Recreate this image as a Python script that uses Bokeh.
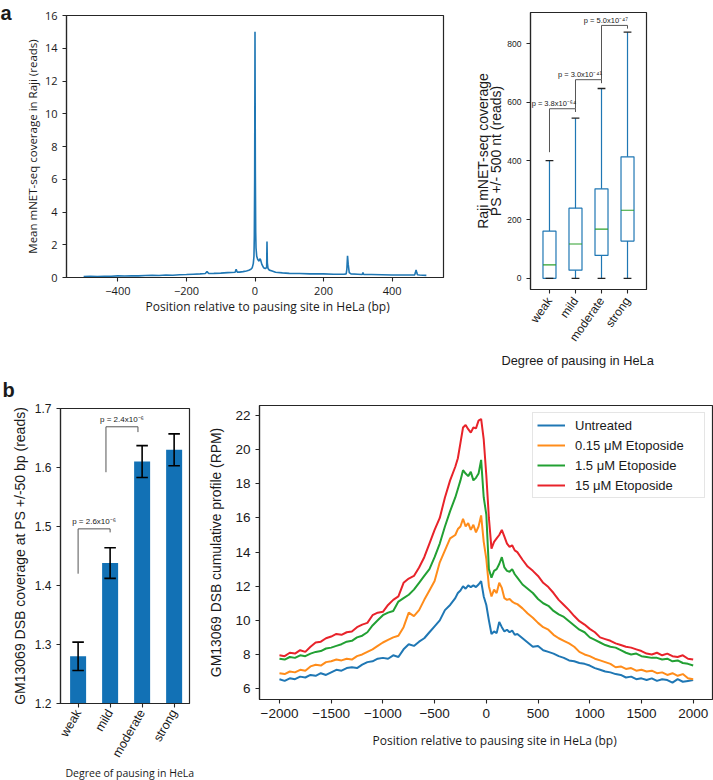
import math
from bokeh.plotting import figure
from bokeh.layouts import row, column
from bokeh.models import FixedTicker, Range1d, Legend, LegendItem, Title
from bokeh.embed import file_html
from bokeh.resources import INLINE
from bokeh.core.properties import value

# ---------------- data ----------------
# panel a (left): mean mNET-seq coverage around the pausing site
a_pos = [-500, -480, -460, -440, -420, -400, -380, -360, -340, -320,
         -300, -280, -260, -240, -220, -200, -180, -160, -145, -140,
         -135, -120, -100, -80, -58, -55, -52, -45, -35, -25,
         -18, -12, -8, -5, -3, -2, -1, 0, 1, 2,
         3, 5, 8, 12, 14, 16, 20, 25, 30, 34,
         35, 36, 38, 42, 50, 60, 80, 100, 130, 160,
         200, 230, 260, 266, 268, 270, 272, 275, 280, 300,
         313, 315, 317, 340, 370, 400, 430, 460, 466, 468,
         470, 472, 474, 480, 500]
a_val = [0.06, 0.07, 0.06, 0.08, 0.08, 0.10, 0.09, 0.11, 0.10, 0.12,
         0.13, 0.12, 0.15, 0.14, 0.17, 0.18, 0.20, 0.22, 0.24, 0.36,
         0.24, 0.25, 0.27, 0.30, 0.32, 0.50, 0.33, 0.33, 0.36, 0.40,
         0.44, 0.50, 0.60, 0.85, 1.30, 2.50, 6.00, 15.0, 6.50, 2.80,
         1.80, 1.30, 1.10, 1.00, 1.15, 1.10, 0.80, 0.60, 0.55, 0.60,
         2.20, 0.90, 0.55, 0.45, 0.40, 0.32, 0.28, 0.25, 0.24, 0.22,
         0.22, 0.20, 0.20, 0.22, 0.50, 1.32, 0.80, 0.30, 0.22, 0.20,
         0.18, 0.30, 0.18, 0.18, 0.17, 0.15, 0.15, 0.15, 0.16, 0.30,
         0.46, 0.30, 0.17, 0.15, 0.13]
a_xticks = [-400, -200, 0, 200, 400]
a_yticks = [0, 2, 4, 6, 8, 10, 12, 14, 16]

# panel a (right): box plot by degree of pausing
pause_cats = ["weak", "mild", "moderate", "strong"]
box_low = [0, 0, 0, 0]
box_q1 = [0, 28, 78, 127]
box_med = [46, 117, 168, 232]
box_q3 = [161, 239, 305, 414]
box_high = [401, 546, 647, 839]
box_yticks = [0, 200, 400, 600, 800]
box_pvals = ["p = 3.8x10\u207b\u2076\u2074", "p = 3.0x10\u207b\u2074\u00b9", "p = 5.0x10\u207b\u2074\u2077"]
box_br_start = [430, 578, 677]
box_br_top = [578, 677, 862]
box_br_end = [567, 665, 851]

# panel b (left): DSB coverage bars
bar_val = [1.28, 1.438, 1.61, 1.63]
bar_err = [0.024, 0.026, 0.027, 0.027]
bar_yticks = [1.2, 1.3, 1.4, 1.5, 1.6, 1.7]
bar_pvals = ["p = 2.6x10\u207b\u2076", "p = 2.4x10\u207b\u2076"]
bar_br_start = [1.42, 1.592]
bar_br_top = [1.496, 1.669]
bar_br_end = [1.49, 1.66]

# panel b (right): cumulative DSB profiles
d_pos = [-2000, -1950, -1900, -1850, -1800, -1750, -1700, -1650, -1600, -1550,
         -1500, -1450, -1400, -1350, -1300, -1250, -1200, -1150, -1100, -1050,
         -1000, -950, -900, -850, -800, -750, -700, -650, -600, -550,
         -500, -450, -400, -350, -300, -275, -250, -225, -200, -175,
         -150, -125, -100, -75, -50, -25, 0, 25, 50, 75,
         100, 125, 150, 175, 200, 225, 250, 275, 300, 350,
         400, 450, 500, 550, 600, 650, 700, 750, 800, 850,
         900, 950, 1000, 1050, 1100, 1150, 1200, 1250, 1300, 1350,
         1400, 1450, 1500, 1550, 1600, 1650, 1700, 1750, 1800, 1850,
         1900, 1950, 2000]
d_untreated = [6.55, 6.45, 6.6, 6.55, 6.7, 6.65, 6.8, 6.75, 6.9, 6.8,
               6.95, 7.1, 7.05, 7.2, 7.25, 7.2, 7.4, 7.55, 7.6, 7.75,
               7.8, 7.75, 7.95, 7.85, 8.3, 8.6, 8.5, 8.75, 8.95, 9.3,
               9.65, 10.0, 10.6, 10.9, 11.3, 11.6, 11.75, 12.0, 11.85, 12.05,
               11.95, 12.05, 11.95, 12.1, 12.3, 11.4, 10.9, 10.0, 9.2, 9.35,
               9.25, 9.9, 9.6, 9.35, 9.45, 9.3, 9.4, 9.15, 9.2, 8.95,
               8.7, 8.45, 8.5, 8.25, 8.15, 8.05, 7.9, 7.8, 7.65, 7.6,
               7.5, 7.45, 7.35, 7.2, 7.1, 7.0, 6.95, 6.85, 6.8, 6.65,
               6.7, 6.55, 6.6, 6.5, 6.6, 6.45, 6.55, 6.5, 6.35, 6.55,
               6.4, 6.45, 6.5]
d_eto015 = [6.9, 6.85, 7.0, 6.95, 7.1, 7.05, 7.3, 7.4, 7.35, 7.55,
            7.6, 7.7, 7.65, 7.75, 7.7, 7.9, 8.0, 8.15, 8.3, 8.5,
            8.7, 8.85, 9.0, 9.1, 9.6, 10.45, 10.25, 10.6, 11.2, 11.75,
            12.3, 13.4, 14.1, 14.8, 15.0, 15.35, 15.5, 15.95, 15.5, 15.7,
            15.3, 15.6, 15.15, 15.5, 16.15, 14.6, 13.6, 12.0, 11.4, 11.8,
            11.6, 12.2, 11.9, 11.3, 11.2, 11.25, 11.1, 11.0, 10.95, 10.7,
            10.4, 10.15, 9.85, 9.6, 9.45, 9.15, 8.95, 8.8, 8.65, 8.45,
            8.15, 8.0, 7.9, 7.75, 7.65, 7.55, 7.45, 7.25, 7.3, 7.15,
            7.2, 7.05, 7.1, 7.0, 7.05, 6.9, 6.95, 6.8, 6.9, 6.75,
            6.85, 6.6, 6.55]
d_eto15 = [7.75, 7.7, 7.85, 7.8, 7.95, 7.9, 8.05, 8.15, 8.2, 8.35,
           8.4, 8.5, 8.6, 8.75, 8.8, 9.0, 9.1, 9.3, 9.7, 10.0,
           10.3, 10.45, 10.55, 11.1, 11.3, 11.5, 11.8, 12.2, 12.6, 13.0,
           13.7, 14.5, 15.5, 16.4, 17.2, 17.7, 18.2, 18.8, 18.6, 18.45,
           18.7, 18.2, 18.35, 18.6, 19.4, 17.2, 16.2, 13.0, 12.5, 12.9,
           13.0, 13.3, 13.7, 13.1, 12.9, 12.85, 13.0, 12.7, 12.5, 12.1,
           11.85, 11.6, 11.25, 11.0, 10.85, 10.55, 10.35, 10.2, 9.95, 9.7,
           9.45, 9.3, 9.0, 8.85, 8.7, 8.55, 8.45, 8.4, 8.25, 8.1,
           8.0, 8.05, 7.9, 7.85, 7.8, 7.8, 7.7, 7.75, 7.6, 7.65,
           7.5, 7.45, 7.35]
d_eto150 = [7.95, 7.9, 8.1, 8.05, 8.25, 8.15, 8.45, 8.7, 8.75, 8.95,
            9.05, 9.2, 9.15, 9.3, 9.35, 9.6, 9.75, 9.85, 10.3, 10.45,
            10.5, 10.9, 11.2, 11.4, 12.2, 12.45, 12.6, 13.1, 13.7, 14.5,
            15.3, 16.0, 17.2, 18.2, 19.0, 19.5, 20.4, 21.3, 21.45, 21.2,
            21.0, 21.3, 21.25, 21.7, 21.8, 20.6, 18.5, 16.0, 14.2, 14.6,
            14.8, 15.0, 15.3, 14.9, 14.5, 14.3, 14.4, 14.1, 14.0, 13.55,
            13.15, 12.9, 12.6, 12.2, 11.95, 11.6, 11.2, 10.9, 10.6, 10.25,
            9.95, 9.75, 9.5, 9.3, 9.0, 8.9, 8.8, 8.65, 8.55, 8.45,
            8.4, 8.3, 8.2, 8.05, 8.0, 8.1, 7.95, 8.05, 7.9, 7.85,
            7.95, 7.75, 7.7]
d_series = ["Untreated", "0.15 \u03bcM Etoposide", "1.5 \u03bcM Etoposide", "15 \u03bcM Etoposide"]
d_xticks = [-2000, -1500, -1000, -500, 0, 500, 1000, 1500, 2000]
d_yticks = [6, 8, 10, 12, 14, 16, 18, 20, 22]

# ---------------- styling helpers ----------------
ARIAL = "Liberation Sans"
HUMAN = "Open Sans"
INK = "#1a1a1a"
SPINE = "#262626"


def make_fig(origin, size, frame, xr, yr):
    ox, oy = origin
    w, h = size
    fl, fr, ft, fb = frame
    p = figure(width=w, height=h, x_range=Range1d(*xr), y_range=Range1d(*yr),
               output_backend="svg", toolbar_location=None,
               min_border_left=fl - ox, min_border_right=ox + w - fr,
               min_border_top=ft - oy, min_border_bottom=oy + h - fb)
    try:
        p.frame_align = False
    except Exception:
        pass
    p.xgrid.visible = False
    p.ygrid.visible = False
    p.outline_line_color = SPINE
    p.outline_line_width = 1.2
    p.background_fill_color = "white"
    p.border_fill_color = "white"
    for ax in p.axis:
        ax.axis_line_color = SPINE
        ax.axis_line_width = 1.2
        ax.major_tick_in = 0
        ax.major_tick_out = 4
        ax.major_tick_line_color = SPINE
        ax.major_tick_line_width = 1.1
        ax.minor_tick_line_color = None
        ax.major_label_text_color = INK
        ax.axis_label_text_font_style = "normal"
        ax.axis_label_text_color = INK
    return p


def tick_font(p, font, size):
    for ax in p.axis:
        ax.major_label_text_font = font
        ax.major_label_text_font_size = size


def side_title(p, side, text, font, size, offset, standoff, valign="top", style="normal"):
    kw = dict(text=text, align="left", vertical_align=valign, offset=offset,
              text_font=font, text_font_size=size, text_font_style=style,
              text_color=INK)
    try:
        t = Title(standoff=standoff, **kw)
    except Exception:
        t = Title(standoff=max(standoff, 0), **kw)
    p.add_layout(t, side)


TOP_H = 372
BOT_H = 780 - TOP_H

# ---------------- panel a, left ----------------
pA = make_fig((0, 0), (470, TOP_H), (66, 443, 15, 277), (-550, 550), (0, 16))
pA.line(a_pos, a_val, line_color="#1f77b4", line_width=1.6)
pA.xaxis.ticker = FixedTicker(ticks=a_xticks)
pA.xaxis.major_label_overrides = {t: str(t).replace("-", "\u2212") for t in a_xticks}
pA.yaxis.ticker = FixedTicker(ticks=a_yticks)
tick_font(pA, HUMAN, "11px")
pA.yaxis.axis_label = "Mean mNET-seq coverage in Raji (reads)"
pA.yaxis.axis_label_text_font = HUMAN
pA.yaxis.axis_label_text_font_size = "11.5px"
pA.yaxis.axis_label_standoff = 2
side_title(pA, "above", "a", ARIAL, "20px", -66, -20, valign="top", style="bold")
side_title(pA, "below", "Position relative to pausing site in HeLa (bp)", HUMAN, "12px", 79, 0)

# ---------------- panel a, right ----------------
pB = make_fig((470, 0), (243, TOP_H), (530, 646, 12, 289), (0.27, 4.73), (-38, 906))
box_x = [i + 1 for i in range(len(pause_cats))]
box_w = 0.5
cap_w = 0.15
BLUE = "#1f77b4"
pB.segment(x0=box_x, y0=box_q3, x1=box_x, y1=box_high, line_color=BLUE, line_width=1.2)
pB.segment(x0=box_x, y0=box_low, x1=box_x, y1=box_q1, line_color=BLUE, line_width=1.2)
pB.vbar(x=box_x, bottom=box_q1, top=box_q3, width=box_w, fill_color=None,
        line_color=BLUE, line_width=1.2)
pB.segment(x0=[x - box_w / 2 for x in box_x], y0=box_med, x1=[x + box_w / 2 for x in box_x],
           y1=box_med, line_color="#2ca02c", line_width=1.2)
pB.segment(x0=[x - cap_w for x in box_x], y0=box_high, x1=[x + cap_w for x in box_x],
           y1=box_high, line_color="#222222", line_width=1.3)
pB.segment(x0=[x - cap_w for x in box_x], y0=box_low, x1=[x + cap_w for x in box_x],
           y1=box_low, line_color="#222222", line_width=1.3)
br_xs = [[box_x[i], box_x[i], box_x[i + 1], box_x[i + 1]] for i in range(len(box_pvals))]
br_ys = [[box_br_start[i], box_br_top[i], box_br_top[i], box_br_end[i]] for i in range(len(box_pvals))]
pB.multi_line(xs=br_xs, ys=br_ys, line_color="#555555", line_width=1.0)
pB.text(x=[box_x[i] + 0.17 for i in range(len(box_pvals))],
        y=[box_br_top[i] + 18 for i in range(len(box_pvals))],
        text=box_pvals, text_font=value(ARIAL), text_font_size="7.5px",
        text_align="center", text_baseline="middle", text_color=INK)
pB.xaxis.ticker = FixedTicker(ticks=box_x)
pB.xaxis.major_label_overrides = {x: c for x, c in zip(box_x, pause_cats)}
pB.xaxis.major_label_orientation = math.radians(55)
pB.yaxis.ticker = FixedTicker(ticks=box_yticks)
tick_font(pB, ARIAL, "8.5px")
pB.xaxis.major_label_text_font_size = "12px"
pB.yaxis.axis_label = "Raji mNET-seq coverage\nPS +/- 500 nt (reads)"
pB.yaxis.axis_label_text_font = ARIAL
pB.yaxis.axis_label_text_font_size = "14px"
pB.yaxis.axis_label_text_line_height = 0.86
pB.yaxis.axis_label_standoff = 0
side_title(pB, "below", "Degree of pausing in HeLa", ARIAL, "12.8px", -29, 2)

# ---------------- panel b, left ----------------
pC = make_fig((0, TOP_H), (200, BOT_H), (60, 189, 408, 703), (-0.55, 3.48), (1.2, 1.7))
bar_x = list(range(len(pause_cats)))
pC.vbar(x=bar_x, bottom=0, top=bar_val, width=0.5, fill_color="#1271b5", line_color=None)
err_lo = [v - e for v, e in zip(bar_val, bar_err)]
err_hi = [v + e for v, e in zip(bar_val, bar_err)]
ecap = 0.18
pC.segment(x0=bar_x, y0=err_lo, x1=bar_x, y1=err_hi, line_color="black", line_width=1.6)
pC.segment(x0=[x - ecap for x in bar_x], y0=err_lo, x1=[x + ecap for x in bar_x], y1=err_lo,
           line_color="black", line_width=1.6)
pC.segment(x0=[x - ecap for x in bar_x], y0=err_hi, x1=[x + ecap for x in bar_x], y1=err_hi,
           line_color="black", line_width=1.6)
bar_br_x = [(0.0, 1.0), (0.87, 1.87)]
pC.multi_line(xs=[[a, a, b, b] for a, b in bar_br_x],
              ys=[[s, t, t, e] for s, t, e in zip(bar_br_start, bar_br_top, bar_br_end)],
              line_color="#555555", line_width=1.0)
pC.text(x=[a + 0.5 for a, b in bar_br_x], y=[t + 0.013 for t in bar_br_top], text=bar_pvals,
        text_font=value(ARIAL), text_font_size="8px", text_align="center",
        text_baseline="middle", text_color=INK)
pC.xaxis.ticker = FixedTicker(ticks=bar_x)
pC.xaxis.major_label_overrides = {x: c for x, c in zip(bar_x, pause_cats)}
pC.xaxis.major_label_orientation = math.radians(60)
pC.xaxis.major_label_standoff = 3
pC.yaxis.ticker = FixedTicker(ticks=bar_yticks)
tick_font(pC, ARIAL, "12px")
pC.xaxis.major_label_text_font_size = "12.5px"
pC.yaxis.axis_label = "GM13069 DSB coverage at PS +/-50 bp (reads)"
pC.yaxis.axis_label_text_font = ARIAL
pC.yaxis.axis_label_text_font_size = "14px"
pC.yaxis.axis_label_standoff = 4
side_title(pC, "above", "b", ARIAL, "20px", -58, 11, valign="top", style="bold")
side_title(pC, "below", "Degree of pausing in HeLa", HUMAN, "10.5px", 5, -4, valign="middle")

# ---------------- panel b, right ----------------
pD = make_fig((200, TOP_H), (513, BOT_H), (259, 712, 405, 699), (-2193, 2187), (5.36, 22.59))
d_colors = ["#1f77b4", "#ff8c1a", "#22a033", "#e8232a"]
d_values = [d_untreated, d_eto015, d_eto15, d_eto150]
items = []
for name, vals, col in zip(d_series, d_values, d_colors):
    r = pD.line(d_pos, vals, line_color=col, line_width=2)
    items.append(LegendItem(label=name, renderers=[r]))
leg = Legend(items=items, location="top_right")
leg.label_text_font = ARIAL
leg.label_text_font_size = "13px"
leg.label_text_color = INK
leg.glyph_width = 28
leg.glyph_height = 16
leg.label_height = 16
leg.label_width = 125
leg.label_standoff = 10
leg.spacing = 4
leg.padding = 4
leg.margin = 7
leg.border_line_color = "#cccccc"
leg.border_line_width = 1
leg.background_fill_alpha = 0.85
pD.add_layout(leg)
pD.xaxis.ticker = FixedTicker(ticks=d_xticks)
pD.yaxis.ticker = FixedTicker(ticks=d_yticks)
tick_font(pD, ARIAL, "13.5px")
pD.yaxis.axis_label = "GM13069 DSB cumulative profile (RPM)"
pD.yaxis.axis_label_text_font = ARIAL
pD.yaxis.axis_label_text_font_size = "13.9px"
pD.yaxis.axis_label_standoff = 8
side_title(pD, "below", "Position relative to pausing site in HeLa (bp)", HUMAN, "12px", 113, 22)

layout = column(row(pA, pB, spacing=0), row(pC, pD, spacing=0), spacing=0)

with open("out.html", "w") as f:
    f.write(file_html(layout, INLINE))
